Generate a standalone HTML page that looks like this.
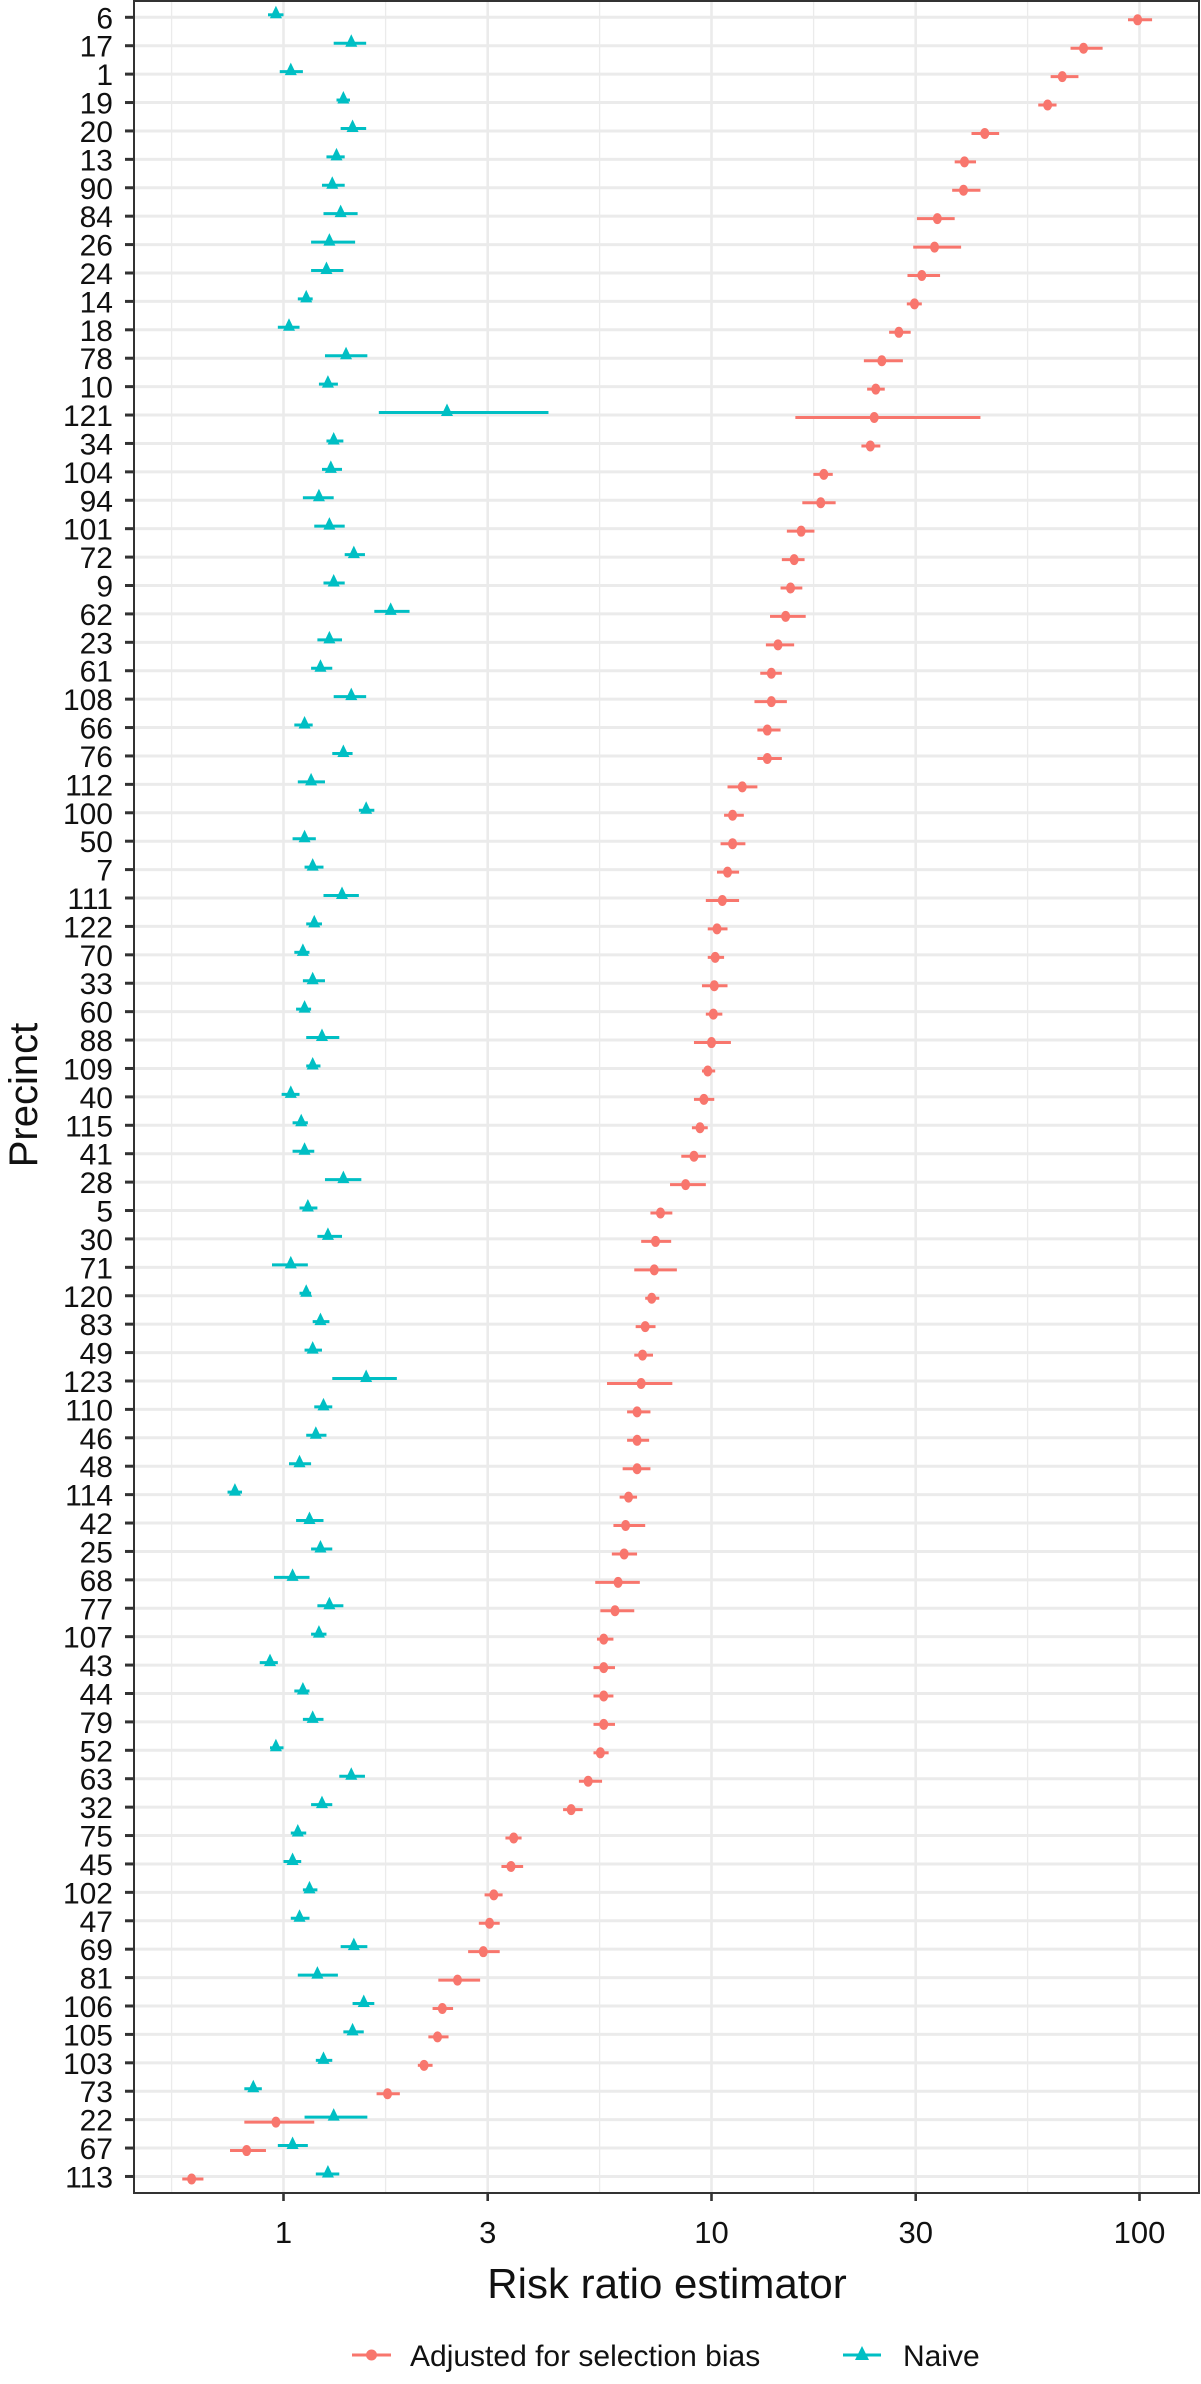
<!DOCTYPE html>
<html><head><meta charset="utf-8"><style>
html,body{margin:0;padding:0;background:#fff;}
svg{display:block;font-family:"Liberation Sans",Arial,sans-serif;}
</style></head><body>
<svg id="chart" width="1201" height="2384" viewBox="0 0 1201 2384" xmlns="http://www.w3.org/2000/svg">
<rect x="0" y="0" width="1201" height="2384" fill="#fff"/>
<g id="grid"></g>
<g id="marks"></g>
<rect x="134" y="1" width="1065" height="2192" fill="none" stroke="#333" stroke-width="2"/>
<g id="axes"></g>
<text x="667" y="2298" font-size="42" text-anchor="middle" fill="#111">Risk ratio estimator</text>
<text transform="translate(37,1095) rotate(-90)" font-size="40" text-anchor="middle" fill="#111">Precinct</text>
<g>
  <g>
    <line x1="352" y1="2355" x2="391" y2="2355" stroke="#F8766D" stroke-width="3"/>
    <circle cx="371.5" cy="2355" r="5.5" fill="#F8766D"/>
    <text x="410" y="2366" font-size="30" fill="#111">Adjusted for selection bias</text>
  </g>
  <g>
    <line x1="843" y1="2355" x2="881" y2="2355" stroke="#00BFC4" stroke-width="3"/>
    <polygon points="862,2346 869,2360 855,2360" fill="#00BFC4"/>
    <text x="903" y="2366" font-size="30" fill="#111">Naive</text>
  </g>
</g>
</svg>
<script>
const precincts = ["6","17","1","19","20","13","90","84","26","24","14","18","78","10","121","34","104","94","101","72","9","62","23","61","108","66","76","112","100","50","7","111","122","70","33","60","88","109","40","115","41","28","5","30","71","120","83","49","123","110","46","48","114","42","25","68","77","107","43","44","79","52","63","32","75","45","102","47","69","81","106","105","103","73","22","67","113"];
const adjEst = [99,74,66,61,43.5,39,38.8,33.7,33.2,31,29.8,27.4,25,24.2,24,23.5,18.3,18,16.2,15.6,15.3,14.9,14.3,13.8,13.8,13.5,13.5,11.8,11.2,11.2,10.9,10.6,10.3,10.2,10.15,10.1,10,9.8,9.6,9.4,9.1,8.7,7.6,7.4,7.35,7.25,7.0,6.9,6.85,6.7,6.7,6.7,6.4,6.3,6.25,6.05,5.95,5.6,5.6,5.6,5.6,5.5,5.15,4.7,3.45,3.4,3.1,3.03,2.93,2.55,2.35,2.29,2.13,1.75,0.96,0.82,0.61];
const adjLo = [94,69,62,58,40.5,37,36.5,30.2,29.6,28.7,28.6,26,22.7,23.1,15.7,22.4,17.3,16.3,15,14.6,14.5,13.7,13.4,13,12.6,12.8,12.8,10.9,10.7,10.5,10.3,9.7,9.8,9.8,9.5,9.7,9.1,9.5,9.1,9.0,8.5,8.0,7.2,6.85,6.6,7.0,6.65,6.6,5.7,6.35,6.35,6.2,6.1,5.9,5.85,5.35,5.5,5.4,5.3,5.3,5.3,5.3,4.9,4.5,3.3,3.23,2.95,2.86,2.7,2.3,2.23,2.18,2.06,1.65,0.81,0.75,0.58];
const adjHi = [107,82,72,64,47,41.5,42.5,37,38.3,34.2,31,29.2,28,25.4,42.5,24.8,19.2,19.5,17.4,16.5,16.3,16.6,15.6,14.6,15,14.5,14.6,12.8,11.9,12,11.6,11.6,10.9,10.7,10.9,10.6,11.1,10.2,10.15,9.8,9.7,9.7,8.1,8.05,8.3,7.55,7.4,7.3,8.1,7.2,7.15,7.2,6.7,7.0,6.7,6.8,6.6,5.9,5.95,5.9,5.95,5.75,5.55,5.0,3.6,3.63,3.25,3.2,3.2,2.88,2.49,2.43,2.23,1.87,1.18,0.91,0.65];
const naiveEst = [0.96,1.44,1.04,1.38,1.45,1.33,1.30,1.36,1.28,1.26,1.13,1.03,1.40,1.27,2.41,1.31,1.29,1.21,1.28,1.46,1.31,1.78,1.28,1.22,1.44,1.12,1.38,1.16,1.56,1.12,1.17,1.37,1.18,1.11,1.17,1.12,1.23,1.17,1.04,1.10,1.12,1.38,1.14,1.27,1.04,1.13,1.22,1.17,1.56,1.24,1.19,1.09,0.77,1.15,1.22,1.05,1.28,1.21,0.93,1.11,1.17,0.96,1.44,1.23,1.08,1.05,1.15,1.09,1.46,1.20,1.54,1.45,1.24,0.85,1.31,1.05,1.27];
const naiveLo = [0.92,1.31,0.98,1.33,1.36,1.26,1.23,1.24,1.16,1.16,1.08,0.97,1.25,1.21,1.67,1.26,1.23,1.11,1.18,1.39,1.24,1.63,1.2,1.16,1.31,1.06,1.30,1.08,1.50,1.05,1.12,1.24,1.13,1.06,1.11,1.07,1.13,1.13,0.99,1.05,1.05,1.25,1.09,1.20,0.94,1.09,1.17,1.12,1.30,1.18,1.13,1.03,0.74,1.07,1.16,0.95,1.20,1.16,0.88,1.06,1.11,0.93,1.35,1.16,1.04,1.0,1.11,1.04,1.36,1.08,1.45,1.38,1.19,0.81,1.12,0.97,1.19];
const naiveHi = [1.0,1.56,1.11,1.43,1.56,1.39,1.39,1.49,1.47,1.38,1.17,1.09,1.57,1.34,4.16,1.38,1.37,1.31,1.39,1.55,1.39,1.97,1.37,1.30,1.56,1.17,1.45,1.25,1.63,1.19,1.24,1.50,1.23,1.15,1.25,1.16,1.35,1.22,1.09,1.14,1.18,1.52,1.20,1.37,1.14,1.16,1.28,1.23,1.84,1.30,1.26,1.16,0.80,1.24,1.30,1.15,1.38,1.26,0.97,1.15,1.24,1.0,1.55,1.30,1.13,1.10,1.20,1.15,1.57,1.34,1.63,1.54,1.30,0.89,1.57,1.14,1.35];
const xTicks = [1,3,10,30,100];
const xTickLabels = ["1","3","10","30","100"];

const NS = "http://www.w3.org/2000/svg";
const X0 = 283.5, DEC = 428, PL = 134, PR = 1199, PT = 1, PB = 2193;
const Y0 = 17.3, DY = 28.41;
function xs(v){ return X0 + DEC * Math.log10(v); }
function ys(i){ return Y0 + DY * i; }
function mk(tag, attrs, parent){
  const e = document.createElementNS(NS, tag);
  for (const k in attrs) e.setAttribute(k, attrs[k]);
  parent.appendChild(e);
  return e;
}
const grid = document.getElementById('grid');
const marks = document.getElementById('marks');
const axes = document.getElementById('axes');

for (let k = -1; k <= 2; k++) {
  [Math.pow(10, k + 0.7386), Math.pow(10, k + 0.2386)].forEach(v => {
    const x = xs(v);
    if (x > PL && x < PR) {
      const l = mk('line', {x1:x, x2:x, y1:PT, y2:PB, stroke:'#ebebeb', 'stroke-width':1.3}, grid);
      
      
    }
  });
}
xTicks.forEach((v, i) => {
  const x = xs(v);
  const l = mk('line', {x1:x, x2:x, y1:PT, y2:PB, stroke:'#ebebeb', 'stroke-width':2.6}, grid);
  
  
  const t = mk('line', {x1:x, x2:x, y1:PB, y2:PB+8, stroke:'#333', 'stroke-width':2.6}, axes);
  
  
  const lab = mk('text', {x:x, y:2243, 'font-size':31, 'text-anchor':'middle', fill:'#111'}, axes);
  lab.textContent = xTickLabels[i];
  
  
});
precincts.forEach((p, i) => {
  const y = ys(i);
  const g = mk('line', {x1:PL, x2:PR, y1:y, y2:y, stroke:'#ebebeb', 'stroke-width':3}, grid);
  
  
  const t = mk('line', {x1:PL-9, x2:PL, y1:y, y2:y, stroke:'#333', 'stroke-width':3}, axes);
  
  
  const lab = mk('text', {x:113, y:y+11, 'font-size':30, 'text-anchor':'end', fill:'#111'}, axes);
  lab.textContent = p;
  
  

  const ya = y + 2.5, yn = y - 2.5;
  const ea = mk('line', {x1:xs(adjLo[i]), x2:xs(adjHi[i]), y1:ya, y2:ya, stroke:'#F8766D', 'stroke-width':3}, marks);
  
  
  const pa = mk('ellipse', {cx:xs(adjEst[i]), cy:ya, rx:4.5, ry:5.5, fill:'#F8766D'}, marks);
  
  
  const en = mk('line', {x1:xs(naiveLo[i]), x2:xs(naiveHi[i]), y1:yn, y2:yn, stroke:'#00BFC4', 'stroke-width':3}, marks);
  
  
  const xn = xs(naiveEst[i]);
  const pn = mk('polygon', {points:(xn)+','+(yn-9)+' '+(xn+6)+','+(yn+3.5)+' '+(xn-6)+','+(yn+3.5), fill:'#00BFC4'}, marks);
  
  
});
</script>
</body></html>
